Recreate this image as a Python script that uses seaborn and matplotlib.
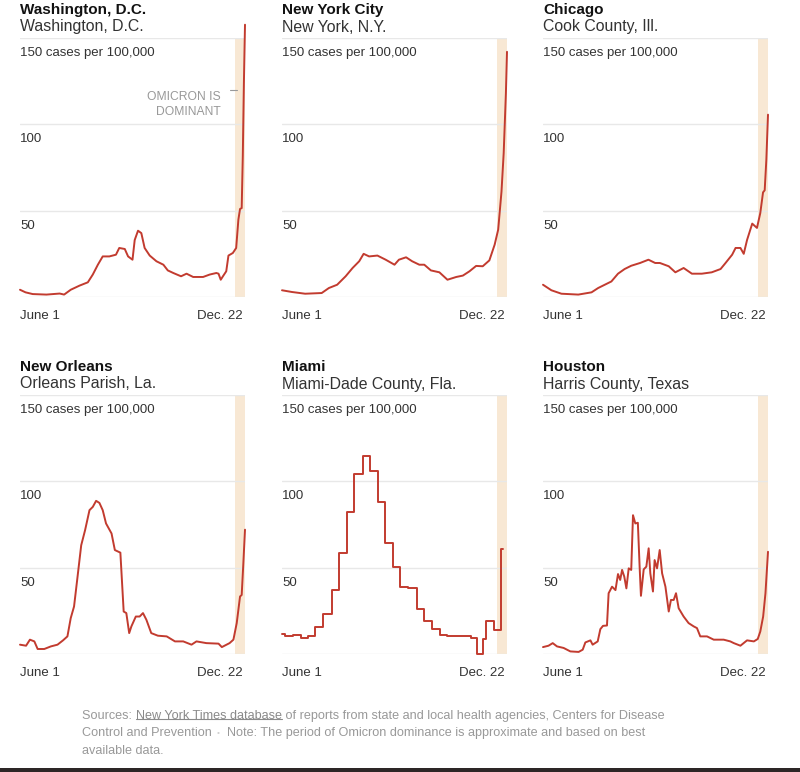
import numpy as np
import pandas as pd
import matplotlib
matplotlib.use('Agg')
import matplotlib.pyplot as plt
import seaborn as sns
from matplotlib.lines import Line2D
from matplotlib.transforms import IdentityTransform

# 主题和字体
sns.set_theme(style='white')
plt.rcParams['font.family'] = ['Liberation Sans', 'DejaVu Sans']

# 数据：June 1 起的天数 与 每10万人病例数
dc_days = [0, 5, 11.5, 24, 36, 40, 46, 54, 61.5, 66, 70.6, 75, 81, 87, 90, 95, 98, 102,
           104, 107, 110, 113, 117.6, 123.7, 130, 134, 139, 146, 151, 157, 166, 172, 178,
           180, 182, 184, 187, 189, 193, 196, 198, 199.5, 201, 202, 203, 204]
dc_vals = [4.2, 2.7, 1.7, 1.4, 2, 1.4, 4.2, 6.6, 8.5, 13, 18.7, 23.5, 23.5, 24.5, 28.4, 27.8,
           23.5, 21.6, 33, 38.4, 37, 28.4, 24, 20.7, 18.7, 15.4, 13.9, 12, 13.5, 11.6, 11.6,
           13, 13.9, 13.5, 10, 12, 14.9, 24, 25.5, 28.4, 44.8, 51, 51.5, 81.5, 124, 157.7]

nyc_days = [0, 9, 21, 36, 42.5, 50, 57.7, 64, 70, 74, 79, 86.5, 94, 102, 106, 112.5, 118,
            124.5, 129, 135, 142.7, 150, 158, 164, 170, 176, 182, 188, 192.8, 196, 199,
            201, 203, 204]
nyc_vals = [3.9, 2.9, 1.9, 2.3, 5.2, 7.1, 12, 16.8, 20.7, 25, 23.5, 24, 21.6, 18.7, 21.6,
            23, 20.7, 18.7, 18.7, 15.4, 14.3, 10, 11.6, 12.4, 14.9, 18, 17.8, 21.2, 30.3,
            39, 61, 83.4, 118, 142]

chi_days = [0, 7.6, 16.7, 32, 44, 50, 56, 62, 68, 74, 80, 88, 95.6, 101.7, 106, 114, 120,
            127.5, 135, 144, 153, 161, 165.5, 171.5, 174.6, 179, 182, 185, 189.7, 194, 197,
            199.5, 201, 202.5, 204]
chi_vals = [7.1, 3.9, 1.9, 1.4, 2.7, 5.2, 7.1, 9, 13.5, 16.2, 18.1, 19.7, 21.6, 19.7, 19.7,
            17.8, 14.3, 16.8, 13.5, 13.5, 14.3, 16.2, 19.7, 24.5, 28.4, 28.4, 25, 33, 42.5,
            40, 48.6, 60.6, 61.8, 79.5, 105.6]

nola_days = [0, 5.5, 9, 13, 16, 22, 28, 34, 39, 43, 46, 49, 52, 55.5, 59, 63, 66, 69, 72,
             75, 78, 83, 86, 91, 94, 96.4, 99, 101, 105, 108.5, 111.5, 114.6, 119, 125, 133,
             140.5, 148, 155.5, 160, 169, 180, 183, 190, 193.5, 196.5, 199.5, 201, 202.5, 204]
nola_vals = [5.4, 4.8, 8.3, 7.3, 2.9, 2.9, 4.4, 5.4, 7.9, 10.2, 20.8, 27.5, 43.8, 63, 71.7,
             83.3, 85.2, 88.7, 87.5, 83.3, 75.6, 69.8, 60.2, 58.7, 24.6, 23.7, 12.1, 16,
             21.7, 21.7, 23.7, 19.8, 12.1, 10.6, 10.2, 7.3, 7.3, 5.4, 7.3, 6.3, 6, 4, 6.3,
             8.3, 17.9, 33.3, 34.2, 52.5, 72]

mia_days = [0, 2.4, 10, 17, 24, 30, 37.4, 45, 52, 58.7, 65.7, 73, 80, 86.6, 93.6, 100.6,
            107.3, 114.3, 122, 128.6, 135.6, 142.9, 150, 157.4, 164.4, 171, 177, 182.4,
            184.8, 191.8, 198.5, 200.5]
mia_vals = [11.8, 10.3, 11.2, 9.3, 10.7, 15.7, 22.9, 37, 58.7, 82.4, 104.3, 114.5, 105.8,
            87.8, 64.1, 50.6, 38.8, 38.4, 25.8, 19, 14.5, 11.2, 10.7, 10.3, 10.7, 9.3, 0.2,
            8.7, 19, 14.1, 61, 61]

hou_days = [0, 5, 8.8, 12.7, 18.7, 24.8, 32.3, 36, 38.4, 43, 45, 49.6, 52, 54.4, 58, 59.5,
            61, 62.6, 65.7, 68, 70, 71.7, 73.7, 75.6, 77.7, 80, 81.6, 83.7, 86, 87.6, 88.8,
            91.3, 93.7, 95.8, 97.3, 99.7, 101.2, 103.4, 105.8, 108, 111, 114, 116, 118.5,
            120.6, 123, 127.5, 132, 136.6, 139.6, 142.6, 148.7, 154.8, 163.8, 169.8, 173,
            179, 185, 191.2, 194.7, 197, 199.6, 201.7, 204]
hou_vals = [4, 4.8, 6.3, 4.4, 3.5, 1.5, 1.2, 2.5, 6.7, 7.9, 5.4, 7.3, 14.4, 16.3, 16.5, 35.2,
            37, 39, 37, 46.3, 42.9, 48.7, 44.8, 38, 49.6, 48.7, 80.4, 75.6, 76, 50.6, 33.7,
            49, 50.6, 61.2, 46.7, 36.2, 54.4, 49.6, 60.2, 46.7, 39, 24.6, 31.3, 31.3, 35.2,
            26.5, 21.7, 17.9, 16, 15, 10.2, 10.2, 8.3, 8.3, 7.3, 6.3, 4.8, 7.9, 7.3, 8.7, 13,
            21.7, 35.2, 59.2]

titles = ['Washington, D.C.', 'New York City', 'Chicago', 'New Orleans', 'Miami', 'Houston']
subtitles = ['Washington, D.C.', 'New York, N.Y.', 'Cook County, Ill.',
             'Orleans Parish, La.', 'Miami-Dade County, Fla.', 'Harris County, Texas']
series = [(dc_days, dc_vals), (nyc_days, nyc_vals), (chi_days, chi_vals),
          (nola_days, nola_vals), (mia_days, mia_vals), (hou_days, hou_vals)]
steps = [False, False, False, False, True, False]

y_ticks = [50, 100, 150]
y_tick_labels = ['50', '100', '150 cases per 100,000']
x_end = 204
omicron_start = 195

LINE = '#c23b2f'
BAND = '#f8e8d4'
GRID = '#e8e8e8'
LABEL = '#333333'

W, H = 800, 772
fig = plt.figure(figsize=(W / 100, H / 100), dpi=100)
fig.patch.set_facecolor('white')

col_px = [20, 282, 543]
row_px = [38, 395]
ax_w, ax_h = 225, 259

for i in range(6):
    r, c = divmod(i, 3)
    left = col_px[c] / W
    bottom = 1 - (row_px[r] + ax_h) / H
    ax = fig.add_axes([left, bottom, ax_w / W, ax_h / H])

    days, vals = series[i]
    df = pd.DataFrame({'day': days, 'cases': vals})
    ax.axvspan(omicron_start, x_end, color=BAND, lw=0, zorder=0)
    for yv in [0] + y_ticks:
        ax.axhline(yv, color=GRID, lw=1, zorder=1)

    kw = {'drawstyle': 'steps-post'} if steps[i] else {}
    sns.lineplot(data=df, x='day', y='cases', ax=ax, color=LINE, lw=1.4,
                 clip_on=False, zorder=3, **kw)

    ax.set_xlim(0, x_end)
    ax.set_ylim(0, 150)
    ax.set_xticks([])
    ax.set_yticks([])
    ax.set_xlabel('')
    ax.set_ylabel('')
    for s in ax.spines.values():
        s.set_visible(False)
    ax.patch.set_alpha(0)

    for yv, lab in zip(y_ticks, y_tick_labels):
        ax.annotate(lab, xy=(0, yv), xytext=(0, -15), textcoords='offset pixels',
                    ha='left', va='center', fontsize=9.5, color=LABEL)
    ax.annotate('June 1', xy=(0, 0), xytext=(0, -19), textcoords='offset pixels',
                ha='left', va='center', fontsize=9.5, color=LABEL)
    ax.annotate('Dec. 22', xy=(x_end, 0), xytext=(-2, -19), textcoords='offset pixels',
                ha='right', va='center', fontsize=9.5, color=LABEL)

    ax.annotate(titles[i], xy=(0, 1), xycoords='axes fraction', xytext=(0, 28),
                textcoords='offset pixels', ha='left', va='center', fontsize=11,
                fontweight='bold', color='#121212')
    ax.annotate(subtitles[i], xy=(0, 1), xycoords='axes fraction', xytext=(0, 11),
                textcoords='offset pixels', ha='left', va='center', fontsize=11.4,
                color=LABEL)

    if i == 0:
        ax.text(182, 111.5, 'OMICRON IS\nDOMINANT', ha='right', va='center',
                fontsize=8.7, color='#999999', linespacing=1.3)
        ax.plot([190, 197], [120, 120], color='#999999', lw=0.8)

# 底部注释
fs = 9.1
fc = '#999999'
t1 = fig.text(82 / W, 1 - 716 / H, 'Sources: ', fontsize=fs, color=fc,
              va='center', ha='left')
t2 = ax.annotate('New York Times database', xy=(1, 0), xycoords=t1, ha='left',
                 va='bottom', fontsize=fs, color='#8a8a8a', annotation_clip=False)
ax.annotate(' of reports from state and local health agencies, Centers for Disease',
            xy=(1, 0), xycoords=t2, ha='left', va='bottom', fontsize=fs, color=fc,
            annotation_clip=False)
l2 = fig.text(82 / W, 1 - 733 / H, 'Control and Prevention', fontsize=fs,
              color=fc, va='center', ha='left')
ax.annotate('\u2022', xy=(1, 0.5), xycoords=l2, xytext=(5, 0), textcoords='offset pixels',
            ha='left', va='center', fontsize=6, color='#d0d0d0', annotation_clip=False)
ax.annotate('Note: The period of Omicron dominance is approximate and based on best',
            xy=(1, 0), xycoords=l2, xytext=(15, 0), textcoords='offset pixels',
            ha='left', va='bottom', fontsize=fs, color=fc, annotation_clip=False)
fig.text(82 / W, 1 - 751 / H, 'available data.', fontsize=fs, color=fc,
         va='center', ha='left')

# 底部深色条
fig.add_artist(plt.Rectangle((0, 0), 1, 4 / H, transform=fig.transFigure,
                             color='#2d2626', lw=0))

fig.canvas.draw()
bb = t2.get_window_extent()
fig.add_artist(Line2D([bb.x0, bb.x1], [bb.y0 + 3, bb.y0 + 3], transform=IdentityTransform(),
                      color='#8a8a8a', lw=0.8))

fig.savefig('out.png', dpi=100)
